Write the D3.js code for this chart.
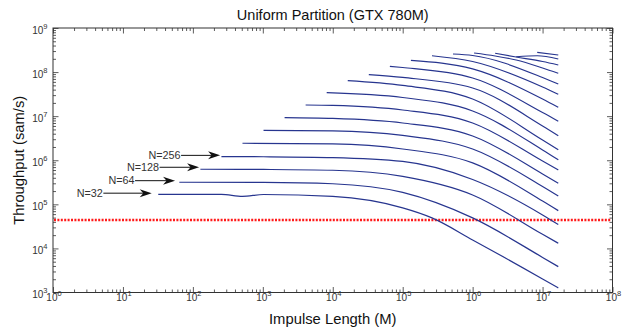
<!DOCTYPE html>
<html>
<head>
<meta charset="utf-8">
<script src="https://cdn.jsdelivr.net/npm/d3@7"></script>
<style>
  body { margin: 0; background: #fff; }
  svg { display: block; font-family: 'Liberation Sans', Arial, Helvetica, sans-serif; }
</style>
</head>
<body>
<div id="chart"></div>
<script>
'use strict';

// ---- data (impulse length M, throughput in sam/s) ----
const xDecades = [1e0, 1e1, 1e2, 1e3, 1e4, 1e5, 1e6, 1e7, 1e8];
const yDecades = [1e3, 1e4, 1e5, 1e6, 1e7, 1e8, 1e9];
const realTime = 44100;

const n32   = [[32, 1.69e5], [256, 1.68e5], [512, 1.52e5], [1024, 1.67e5], [1e4, 1.51e5], [1e5, 8.3e4], [262144, 4.92e4], [1e6, 1.56e4], [1e7, 2.03e3], [16777216, 1.27e3]];
const n64   = [[64, 3.17e5], [1024, 3.14e5], [1e4, 2.93e5], [1e5, 1.86e5], [1e6, 4.92e4], [1e7, 6.25e3], [16777216, 3.86e3]];
const n128  = [[128, 6.25e5], [1024, 6.18e5], [1e4, 5.93e5], [1e5, 4.30e5], [1e6, 1.63e5], [1e7, 2.09e4], [16777216, 1.31e4]];
const n256  = [[256, 1.21e6], [1024, 1.20e6], [1e4, 1.15e6], [1e5, 9.4e5], [1e6, 3.67e5], [1e7, 5.75e4], [16777216, 3.47e4]];
const n512  = [[512, 2.43e6], [1e4, 2.34e6], [1e5, 1.80e6], [1e6, 8.7e5], [1e7, 1.19e5], [16777216, 7.2e4]];
const n1k   = [[1024, 4.74e6], [1e4, 4.62e6], [1e5, 3.65e6], [1e6, 1.80e6], [1e7, 2.55e5], [16777216, 1.55e5]];
const n2k   = [[2048, 9.25e6], [1e4, 8.87e6], [1e5, 7.0e6], [1e6, 3.56e6], [1e7, 4.89e5], [16777216, 3.0e5]];
const n4k   = [[4096, 1.79e7], [1e4, 1.75e7], [1e5, 1.38e7], [1e6, 7.0e6], [1e7, 9.6e5], [16777216, 6.0e5]];
const n8k   = [[8192, 3.41e7], [1e5, 2.65e7], [1e6, 1.31e7], [1e7, 1.71e6], [16777216, 1.02e6]];
const n16k  = [[16384, 6.38e7], [1e5, 4.97e7], [1e6, 2.45e7], [1e7, 2.89e6], [16777216, 1.74e6]];
const n32k  = [[32768, 8.73e7], [1e5, 7.55e7], [1e6, 4.36e7], [1e7, 6.0e6], [16777216, 3.61e6]];
const n64k  = [[65536, 1.35e8], [1e5, 1.27e8], [1e6, 7.35e7], [1e7, 1.21e7], [16777216, 7.66e6]];
const n128k = [[131072, 1.85e8], [1e6, 1.18e8], [1e7, 2.45e7], [16777216, 1.59e7]];
const n256k = [[262144, 2.35e8], [1e6, 1.74e8], [1e7, 4.59e7], [16777216, 3.14e7]];
const n512k = [[524288, 2.57e8], [1e6, 2.38e8], [1e7, 7.55e7], [16777216, 5.37e7]];
const n1m   = [[1048576, 2.71e8], [2097152, 2.32e8], [4194304, 1.88e8], [1e7, 1.24e8], [16777216, 9.4e7]];
const n2m   = [[2097152, 2.67e8], [4194304, 2.20e8], [1e7, 1.74e8], [16777216, 1.45e8]];
const n4m   = [[4194304, 2.23e8], [8388608, 2.35e8], [16777216, 1.98e8]];
const n8m   = [[8388608, 2.81e8], [16777216, 2.44e8]];

const curves = [n32, n64, n128, n256, n512, n1k, n2k, n4k, n8k, n16k, n32k, n64k,
                n128k, n256k, n512k, n1m, n2m, n4m, n8m];

// annotation arrows: label, tail M, tip M, throughput level
const noteLabels = ['N=32', 'N=64', 'N=128', 'N=256'];
const noteTail   = [5.25, 14.9, 33.4, 67.8];
const noteTip    = [25.8, 55.6, 122.7, 245];
const noteLevel  = [1.79e5, 3.44e5, 6.93e5, 1.29e6];

// ---- layout ----
const W = 624, H = 331;
const plotL = 53, plotR = 612.5, plotT = 28, plotB = 292.5;

const svg = d3.select('#chart').append('svg')
    .attr('width', W)
    .attr('height', H)
    .attr('viewBox', `0 0 ${W} ${H}`);

const x = d3.scaleLog().domain([1, 1e8]).range([plotL, plotR]);
const y = d3.scaleLog().domain([1e3, 1e9]).range([plotB, plotT]);

// minor tick positions (2..9 within each decade)
const minorX = [];
xDecades.slice(0, -1).forEach(d => { for (let m = 2; m < 10; m++) minorX.push(d * m); });
const minorY = [];
yDecades.slice(0, -1).forEach(d => { for (let m = 2; m < 10; m++) minorY.push(d * m); });

const axisColor = '#333';

function tickAxis(gen, values, size, transform) {
    const g = svg.append('g')
        .attr('transform', transform)
        .call(gen.tickValues(values).tickSize(size).tickFormat(''));
    g.select('.domain').remove();
    g.selectAll('line').attr('stroke', axisColor).attr('stroke-width', 0.8);
    return g;
}

// ticks pointing inwards on all four sides
tickAxis(d3.axisBottom(x), xDecades, -5.5, `translate(0,${plotB})`);
tickAxis(d3.axisBottom(x), minorX, -3, `translate(0,${plotB})`);
tickAxis(d3.axisTop(x), xDecades, -5.5, `translate(0,${plotT})`);
tickAxis(d3.axisTop(x), minorX, -3, `translate(0,${plotT})`);
tickAxis(d3.axisLeft(y), yDecades, -5.5, `translate(${plotL},0)`);
tickAxis(d3.axisLeft(y), minorY, -3, `translate(${plotL},0)`);
tickAxis(d3.axisRight(y), yDecades, -5.5, `translate(${plotR},0)`);
tickAxis(d3.axisRight(y), minorY, -3, `translate(${plotR},0)`);

// box
svg.append('rect')
    .attr('x', plotL).attr('y', plotT)
    .attr('width', plotR - plotL).attr('height', plotB - plotT)
    .attr('fill', 'none')
    .attr('stroke', axisColor)
    .attr('stroke-width', 1);

// tick labels as 10^k
const exp = v => Math.round(Math.log10(v));

svg.append('g').selectAll('text')
    .data(xDecades)
    .join('text')
    .attr('x', d => x(d) + 1)
    .attr('y', plotB + 8.5)
    .attr('text-anchor', 'middle')
    .attr('fill', '#333')
    .attr('font-size', 10)
    .each(function (d) {
        const t = d3.select(this);
        t.append('tspan').text('10');
        t.append('tspan').attr('dy', -5).attr('font-size', 7.5).text(exp(d));
    });

svg.append('g').selectAll('text')
    .data(yDecades)
    .join('text')
    .attr('x', plotL - 5.5)
    .attr('y', d => y(d) + 5.5)
    .attr('text-anchor', 'end')
    .attr('fill', '#333')
    .attr('font-size', 10)
    .each(function (d) {
        const t = d3.select(this);
        t.append('tspan').text('10');
        t.append('tspan').attr('dy', -5).attr('font-size', 7.5).text(exp(d));
    });

// real-time threshold
svg.append('line')
    .attr('x1', plotL + 1).attr('x2', plotR - 1)
    .attr('y1', y(realTime)).attr('y2', y(realTime))
    .attr('stroke', '#ff1a1a')
    .attr('stroke-width', 2.4)
    .attr('stroke-dasharray', '2,1.4');

// throughput curves
const line = d3.line()
    .x(d => x(d[0]))
    .y(d => y(d[1]))
    .curve(d3.curveMonotoneX);

svg.append('g').selectAll('path')
    .data(curves)
    .join('path')
    .attr('d', line)
    .attr('fill', 'none')
    .attr('stroke', '#27358f')
    .attr('stroke-width', 1.2);

// arrow annotations
const notes = noteLabels.map((label, i) => ({
    label, tail: noteTail[i], tip: noteTip[i], level: noteLevel[i]
}));

const note = svg.append('g').selectAll('g')
    .data(notes)
    .join('g');

note.append('line')
    .attr('x1', d => x(d.tail)).attr('x2', d => x(d.tip) - 6)
    .attr('y1', d => y(d.level)).attr('y2', d => y(d.level))
    .attr('stroke', '#111')
    .attr('stroke-width', 1);

note.append('path')
    .attr('transform', d => `translate(${x(d.tip)},${y(d.level)})`)
    .attr('d', 'M0,0 L-12,-4 L-8.5,0 L-12,4 Z')
    .attr('fill', '#111');

note.append('text')
    .attr('x', d => x(d.tail) - 0.5)
    .attr('y', d => y(d.level) + 3.8)
    .attr('text-anchor', 'end')
    .attr('fill', '#333')
    .attr('font-size', 10.8)
    .text(d => d.label);

// titles
svg.append('text')
    .attr('x', (plotL + plotR) / 2)
    .attr('y', 20)
    .attr('text-anchor', 'middle')
    .attr('font-size', 14.5)
    .attr('fill', '#111')
    .text('Uniform Partition (GTX 780M)');

svg.append('text')
    .attr('x', (plotL + plotR) / 2)
    .attr('y', 324)
    .attr('text-anchor', 'middle')
    .attr('font-size', 14.8)
    .attr('fill', '#111')
    .text('Impulse Length (M)');

svg.append('text')
    .attr('transform', `translate(24,${(plotT + plotB) / 2}) rotate(-90)`)
    .attr('text-anchor', 'middle')
    .attr('font-size', 14.8)
    .attr('fill', '#111')
    .text('Throughput (sam/s)');
</script>
</body>
</html>
